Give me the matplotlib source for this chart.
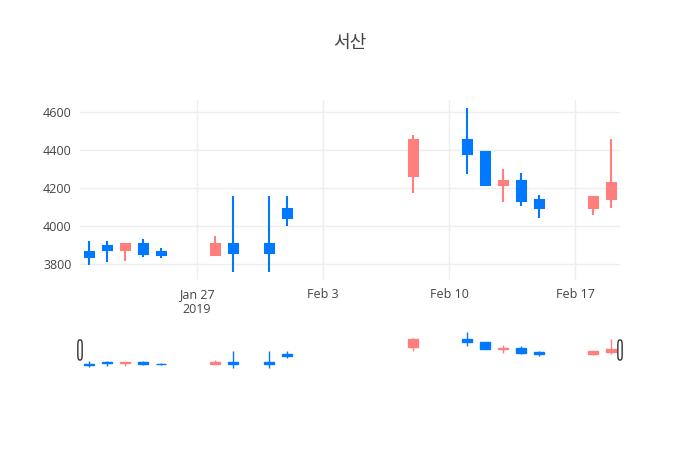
import numpy as np
import pandas as pd
import matplotlib
matplotlib.use("Agg")
import matplotlib.pyplot as plt
import matplotlib.dates as mdates
from matplotlib.patches import FancyBboxPatch

plt.rcParams['font.family'] = ['Open Sans', 'Noto Sans CJK KR', 'DejaVu Sans']

dates = pd.to_datetime([
    "2019-01-21", "2019-01-22", "2019-01-23", "2019-01-24", "2019-01-25",
    "2019-01-28", "2019-01-29", "2019-01-31", "2019-02-01",
    "2019-02-08", "2019-02-11", "2019-02-12", "2019-02-13", "2019-02-14",
    "2019-02-15", "2019-02-18", "2019-02-19",
])
opens = [3865, 3895, 3875, 3905, 3865, 3850, 3905, 3905, 4090,
         4265, 4455, 4390, 4215, 4235, 4140, 4095, 4145]
highs = [3920, 3920, 3905, 3930, 3885, 3950, 4160, 4160, 4160,
         4480, 4620, 4390, 4300, 4280, 4165, 4155, 4460]
lows = [3795, 3810, 3815, 3840, 3835, 3850, 3760, 3760, 4000,
        4175, 4275, 4215, 4125, 4105, 4045, 4060, 4095]
closes = [3840, 3875, 3905, 3855, 3850, 3905, 3860, 3860, 4045,
          4455, 4380, 4215, 4235, 4130, 4095, 4155, 4225]

UP = "#ff7f7f"
DOWN = "#0078ff"
TXT = "#444444"

W, H = 700, 450
fig = plt.figure(figsize=(7, 4.5), dpi=100)

def box(l, t, r, b):
    return [l / W, 1 - b / H, (r - l) / W, (b - t) / H]

ax = fig.add_axes(box(80, 100, 620, 280))
ax_rs = fig.add_axes(box(80, 330, 620, 370))

x = mdates.date2num(dates)
o = np.array(opens, float)
c = np.array(closes, float)
hi = np.array(highs, float)
lo = np.array(lows, float)
cols = [UP if cc >= oo else DOWN for oo, cc in zip(o, c)]

span = hi.max() - lo.min()
ylim = (lo.min() - 0.05 * span, hi.max() + 0.05 * span)
xlim = (x.min() - 0.5, x.max() + 0.5)


def draw(a, lw, bw):
    a.vlines(x, lo, hi, colors=cols, linewidth=lw, zorder=2)
    a.bar(x, np.abs(c - o), bottom=np.minimum(o, c), width=bw,
          color=cols, edgecolor=cols, linewidth=lw, zorder=3)
    a.set_xlim(*xlim)
    a.set_ylim(*ylim)
    for s in a.spines.values():
        s.set_visible(False)


draw(ax, 1.5, 0.5)
draw(ax_rs, 1.0, 0.55)

ax.set_yticks([3800, 4000, 4200, 4400, 4600])
tick_days = pd.to_datetime(["2019-01-27", "2019-02-03", "2019-02-10", "2019-02-17"])
ax.set_xticks(mdates.date2num(tick_days))
ax.set_xticklabels(["Jan 27\n2019", "Feb 3", "Feb 10", "Feb 17"])
ax.tick_params(length=0, labelsize=9, labelcolor=TXT, pad=6)
ax.grid(True, color="#eeeeee", linewidth=1)
ax.set_axisbelow(True)

ax_rs.set_xticks([])
ax_rs.set_yticks([])

# range slider handles
for hx in (0.0, 1.0):
    p = FancyBboxPatch((hx - 0.004, 0.25), 0.008, 0.5,
                       boxstyle="round,pad=0,rounding_size=0.003",
                       transform=ax_rs.transAxes, facecolor="white",
                       edgecolor="#333333", linewidth=1, zorder=5,
                       clip_on=False, mutation_aspect=40)
    ax_rs.add_patch(p)

fig.text(0.5, 1 - 43 / H, "서산", ha="center", va="center",
         fontsize=13, color=TXT)

fig.savefig("out.png", dpi=100)
